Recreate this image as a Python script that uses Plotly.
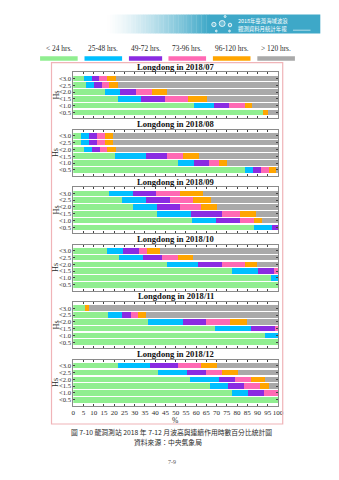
import plotly.graph_objects as go
from plotly.subplots import make_subplots

W, H = 339, 480

classes = ["< 24 hrs.", "25-48 hrs.", "49-72 hrs.", "73-96 hrs.", "96-120 hrs.", "> 120 hrs."]
colors = ["#90ee90", "#00bfff", "#8a2be2", "#ff69b4", "#ffa500", "#a9a9a9"]
hs_labels = ["<3.0", "<2.5", "<2.0", "<1.5", "<1.0", "<0.5"]
months = ["2018/07", "2018/08", "2018/09", "2018/10", "2018/11", "2018/12"]
x_ticks = list(range(0, 101, 5))

# rows: <3.0, <2.5, <2.0, <1.5, <1.0, <0.5 ; columns: the six duration classes (%)
jul = [[5.2, 3.8, 3.8, 3.8, 4.1, 79.3],
       [6.2, 3.8, 3.8, 3.8, 4.0, 78.4],
       [15.3, 7.6, 7.6, 7.8, 7.6, 54.1],
       [21.6, 11.6, 11.5, 11.4, 9.2, 34.7],
       [59.0, 9.5, 7.7, 7.7, 3.4, 12.7],
       [92.7, 0.0, 0.0, 0.0, 2.2, 5.1]]
aug = [[3.8, 3.8, 3.8, 3.9, 3.9, 80.8],
       [3.8, 3.8, 3.8, 3.9, 3.9, 80.8],
       [5.2, 3.9, 3.8, 3.8, 4.0, 79.3],
       [20.3, 15.3, 10.2, 7.8, 7.8, 38.6],
       [51.0, 7.8, 7.7, 4.6, 3.8, 25.1],
       [84.1, 3.8, 4.0, 3.8, 3.8, 0.5]]
sep = [[17.5, 11.6, 11.4, 11.5, 11.6, 36.4],
       [24.0, 11.5, 11.6, 11.6, 8.5, 32.8],
       [29.3, 11.6, 11.4, 10.2, 7.6, 29.9],
       [40.9, 16.5, 15.3, 8.9, 7.7, 10.7],
       [58.0, 11.6, 11.6, 7.0, 3.9, 7.9],
       [88.2, 8.8, 3.0, 0.0, 0.0, 0.0]]
oct_ = [[16.7, 7.6, 7.7, 4.1, 6.2, 57.7],
        [22.4, 11.5, 9.5, 7.6, 7.7, 41.3],
        [45.9, 15.1, 11.5, 11.6, 5.6, 10.3],
        [77.3, 12.8, 7.7, 2.2, 0.0, 0.0],
        [96.7, 3.3, 0.0, 0.0, 0.0, 0.0],
        [100.0, 0.0, 0.0, 0.0, 0.0, 0.0]]
nov = [[5.7, 0.0, 0.0, 0.0, 2.1, 92.2],
       [16.9, 7.1, 4.0, 3.6, 4.0, 64.4],
       [36.7, 16.7, 11.5, 11.6, 8.2, 15.3],
       [69.0, 17.8, 11.9, 1.3, 0.0, 0.0],
       [93.6, 6.4, 0.0, 0.0, 0.0, 0.0],
       [100.0, 0.0, 0.0, 0.0, 0.0, 0.0]]
dec = [[21.9, 15.8, 13.3, 11.5, 7.6, 29.9],
       [41.5, 14.0, 9.4, 7.6, 7.8, 19.7],
       [56.9, 14.5, 7.6, 7.6, 7.0, 6.4],
       [66.9, 8.9, 7.7, 7.6, 4.6, 4.3],
       [77.7, 7.7, 7.9, 6.7, 0.0, 0.0],
       [100.0, 0.0, 0.0, 0.0, 0.0, 0.0]]
month_data = [jul, aug, sep, oct_, nov, dec]

SERIF = "Liberation Serif"
CJK = "Noto Sans CJK TC"
TXT = "#2a2a2a"


def px(x):
    return x / W


def py(y):
    return 1 - y / H


def esc(s):
    return s.replace("<", "&lt;").replace(">", "&gt;")


fig = make_subplots(rows=6, cols=1)


def note(x, y, text, size, family=SERIF, color=TXT, xanchor="center", angle=0):
    fig.add_annotation(x=px(x), y=py(y), xref="paper", yref="paper", text=text,
                       showarrow=False, xanchor=xanchor, yanchor="middle",
                       textangle=angle, font=dict(family=family, size=size, color=color))


x0, x1 = 73.0, 282.7
top0, step, ph = 72.4, 57.46, 46.0

for i, (m, data) in enumerate(zip(months, month_data)):
    r = i + 1
    for c, (cls, col) in enumerate(zip(classes, colors)):
        fig.add_trace(go.Bar(
            y=hs_labels, x=[row[c] for row in data], orientation="h",
            marker=dict(color=col, line=dict(width=0)), name=cls,
            showlegend=False, hoverinfo="skip"), row=r, col=1)
    top = top0 + step * i
    bot = top + ph
    xa = "xaxis" if i == 0 else f"xaxis{r}"
    ya = "yaxis" if i == 0 else f"yaxis{r}"
    fig.layout[xa].update(
        domain=[px(x0), px(x1)], range=[0, 100], tickmode="array", tickvals=x_ticks,
        ticktext=[str(t) for t in x_ticks], tickangle=0,
        ticks="inside", ticklen=2, tickcolor="#444", tickwidth=0.8,
        showline=True, linecolor="#8a8a8a", linewidth=1, mirror="ticks",
        showgrid=False, zeroline=False, showticklabels=(i == 5),
        tickfont=dict(family=SERIF, size=7, color=TXT))
    fig.layout[ya].update(
        domain=[py(bot), py(top)], type="category",
        categoryorder="array", categoryarray=hs_labels[::-1],
        tickmode="array", tickvals=hs_labels, ticktext=[esc(h) for h in hs_labels],
        range=[-0.88, 5.88], ticks="inside", ticklen=2, tickcolor="#444",
        tickwidth=0.8, showline=True, linecolor="#8a8a8a", linewidth=1,
        mirror="ticks", showgrid=False, zeroline=False,
        tickfont=dict(family=SERIF, size=6.6, color=TXT))
    note((x0 + x1) / 2, top - 5.8, f"<b>Longdong in {m}</b>", 8.6, color="#111")
    note(55.5, (top + bot) / 2, "Hs", 8.2, angle=-90)

note((x0 + x1) / 2, 420.5, "%", 7.6)

shapes = []
# outer pink frame
shapes.append(dict(type="rect", xref="paper", yref="paper", x0=px(50.7), x1=px(287.5),
                   y0=py(424), y1=py(62.7), line=dict(color="#f0b4b8", width=1.2)))

# legend swatches + labels
leg_x = [(39, 77.5), (84.5, 123), (130, 164), (170.5, 209), (216, 254.5), (261.5, 300)]
for (a, b), cls, col in zip(leg_x, classes, colors):
    shapes.append(dict(type="rect", xref="paper", yref="paper", x0=px(a), x1=px(b),
                       y0=py(60.8), y1=py(56.2), fillcolor=col, line=dict(width=0)))
    note((a + b) / 2, 48.3, esc(cls), 7.4)

# header banner with gradient
teal = (62, 168, 200)
gx0, gx1, bx1 = 108.0, 212.0, 326.0
n = 40
for k in range(n):
    t = (k + 0.5) / n
    c = tuple(int(255 + (tc - 255) * t ** 1.3) for tc in teal)
    shapes.append(dict(type="rect", xref="paper", yref="paper",
                       x0=px(gx0 + (gx1 - gx0) * k / n), x1=px(gx0 + (gx1 - gx0) * (k + 1) / n + 0.3),
                       y0=py(33.5), y1=py(14.5), fillcolor="rgb(%d,%d,%d)" % c, line=dict(width=0)))
shapes.append(dict(type="rect", xref="paper", yref="paper", x0=px(gx1), x1=px(bx1),
                   y0=py(33.5), y1=py(14.5), fillcolor="rgb(%d,%d,%d)" % teal, line=dict(width=0)))
for (cx, cy, rr) in [(217, 24.5, 2.2), (225.5, 23.5, 3.0), (233.5, 25, 1.8), (228.5, 16.5, 1.0),
                     (219.5, 31, 0.9), (233, 31, 0.9)]:
    shapes.append(dict(type="circle", xref="paper", yref="paper", x0=px(cx - rr), x1=px(cx + rr),
                       y0=py(cy + rr), y1=py(cy - rr), line=dict(color="white", width=0.8),
                       fillcolor="rgba(255,255,255,0.25)"))
shapes.append(dict(type="line", xref="paper", yref="paper", x0=px(298), x1=px(316),
                   y0=py(30.2), y1=py(30.2), line=dict(color="white", width=0.6)))
note(240, 20.6, "2018年臺灣海域波浪", 5.4, family=CJK, color="white", xanchor="left")
note(240, 28.6, "觀測資料月統計年報", 5.4, family=CJK, color="white", xanchor="left")

# captions
note(174, 431.7, "圖 7-10 龍洞測站 2018 年 7-12 月波高與連續作用時數百分比統計圖", 6.8, family=CJK)
note(170, 441.7, "資料來源：中央氣象局", 6.8, family=CJK)
note(174.5, 462.3, "7-9", 6, color="#555")

fig.update_layout(
    width=W, height=H, margin=dict(l=0, r=0, t=0, b=0),
    barmode="stack", bargap=0.18,
    paper_bgcolor="white", plot_bgcolor="white",
    shapes=shapes, showlegend=False)

fig.write_html("out.html")
